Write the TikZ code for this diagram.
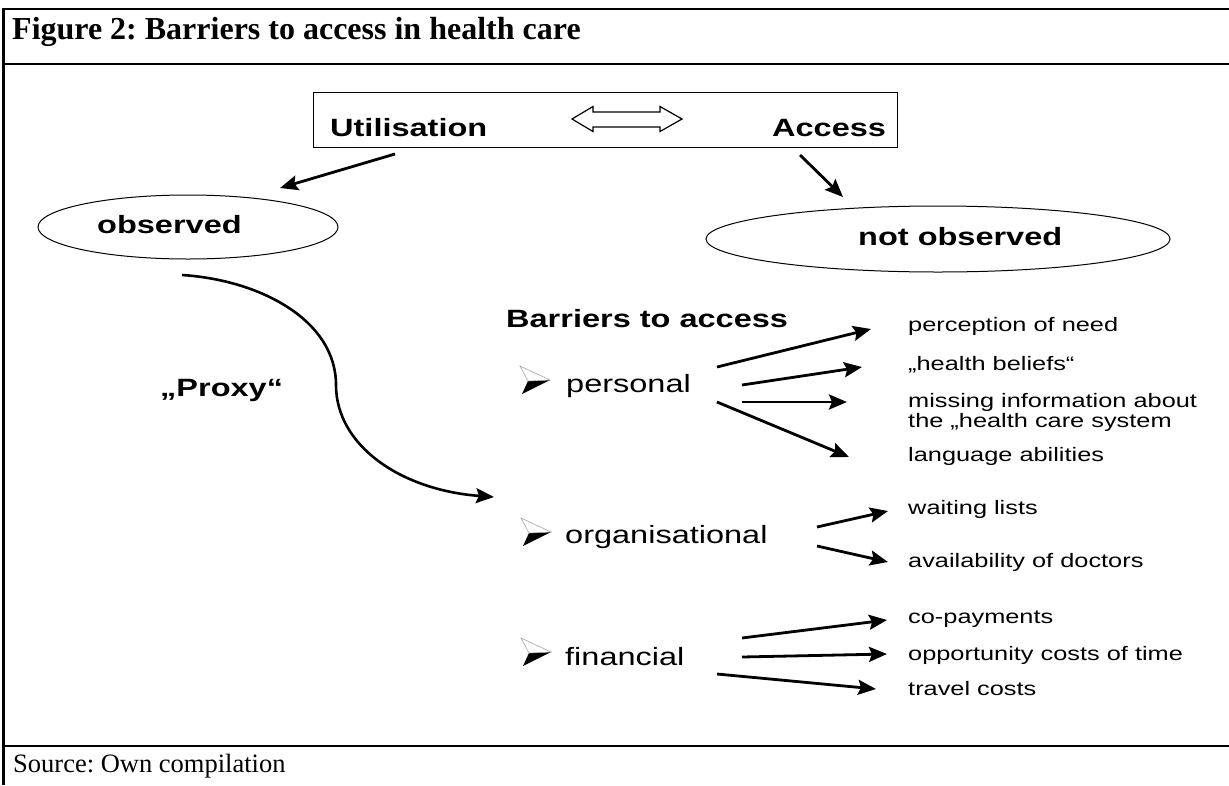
\documentclass[tikz,border=0pt]{standalone}
\usepackage{fontspec}
\setmainfont{Liberation Serif}
\newfontfamily\dsans{Liberation Sans}[FakeStretch=1.3]
\usetikzlibrary{arrows.meta,shapes.geometric}
\frenchspacing
\tikzset{bulletarrow/.pic={
  \fill[black] (8,1) -- (30,0) -- (2,14) -- cycle;
  \filldraw[fill=white, draw=gray!70, line width=0.6pt] (0,-14) -- (30,0) -- (8,1) -- cycle;
}}
\begin{document}
\begin{tikzpicture}[x=1pt,y=-1pt,
  frame/.style={line width=2.8pt},
  ttl/.style={inner sep=0pt, anchor=base west, font=\fontsize{32}{36}\selectfont\bfseries},
  src/.style={inner sep=0pt, anchor=base west, font=\fontsize{26.5}{30}\selectfont},
  lbl/.style={inner sep=0pt, anchor=base west, font=\dsans\fontsize{25}{30}\selectfont\bfseries},
  item/.style={inner sep=0pt, anchor=base west, font=\dsans\fontsize{25}{30}\selectfont},
  sub/.style={inner sep=0pt, anchor=base west, font=\dsans\fontsize{19.5}{22}\selectfont},
  arr/.style={line width=2.8pt, -{Stealth[length=18pt,width=15pt,inset=3pt]}},
  ell/.style={draw, ellipse, line width=1pt, inner sep=0pt},
]
\useasboundingbox (0,0) rectangle (1229,785);
\fill[white] (0,0) rectangle (1229,785);
% frame
\draw[frame] (3.5,785) -- (3.5,9) -- (1229,9);
\draw[frame] (3.5,64) -- (1229,64);
\draw[frame] (3.5,746) -- (1229,746);
\node[ttl] (title) at (12,39) {Figure 2: Barriers to access in health care};
\node[src] (source) at (13,772) {Source: Own compilation};

% top box
\node[draw, line width=1.3pt, minimum width=584pt, minimum height=55pt, anchor=north west, inner sep=0pt] (box) at (313,92) {};
\node[lbl] (util) at (330,136) {Utilisation};
\node[lbl] (acc) at (772,136) {Access};
\draw[line width=1.2pt, fill=white] (572,119) -- (593,106.5) -- (593,112) -- (660,112) -- (660,106.5) -- (682,119)
  -- (660,131.5) -- (660,127) -- (593,127) -- (593,131.5) -- cycle;

% ellipses
\node[ell, minimum width=300pt, minimum height=64pt] (obs) at (188,227) {};
\node[lbl] (obstext) at (97,233) {observed};
\node[ell, minimum width=464pt, minimum height=66pt] (nobs) at (938,239) {};
\node[lbl] (nobstext) at (858,245) {not observed};

\coordinate (u1) at (395,154); \coordinate (u2) at (280,188);
\draw[arr] (u1) -- (u2);
\coordinate (a1) at (800,155); \coordinate (a2) at (843,197);
\draw[arr] (a1) -- (a2);

% proxy
\node[lbl] (proxy) at (160,396) {„Proxy“};
\coordinate (p1) at (182,275); \coordinate (pm) at (336,385); \coordinate (p2) at (494,497);
\draw[arr, line width=2.6pt] (p1) .. controls (260,280) and (336,320) .. (pm) .. controls (336,445) and (400,490) .. (p2);

% barriers
\node[lbl] (bar) at (506,327) {Barriers to access};
\pic at (520,380) {bulletarrow};
\node[item] (pers) at (566,392) {personal};
\pic at (521,532) {bulletarrow};
\node[item] (org) at (565,543) {organisational};
\pic at (521,652) {bulletarrow};
\node[item] (fin) at (565,665) {financial};

% personal sub-items
\node[sub] (s1) at (908,331) {perception of need};
\node[sub] (s2) at (908,370) {„health beliefs“};
\node[sub] (s3a) at (908,407) {missing information about};
\node[sub] (s3b) at (908,427) {the „health care system};
\node[sub] (s4) at (908,461) {language abilities};
\coordinate (pa1s) at (717,367); \coordinate (pa1e) at (871,329);
\coordinate (pa2s) at (742,385); \coordinate (pa2e) at (862,367);
\coordinate (pa3s) at (742,402); \coordinate (pa3e) at (847,402);
\coordinate (pa4s) at (717,402); \coordinate (pa4e) at (849,457);
\draw[arr] (pa1s) -- (pa1e);
\draw[arr] (pa2s) -- (pa2e);
\draw[arr] (pa3s) -- (pa3e);
\draw[arr] (pa4s) -- (pa4e);

% organisational sub-items
\node[sub] (o1) at (908,514) {waiting lists};
\node[sub] (o2) at (908,567) {availability of doctors};
\coordinate (oa1s) at (817,527); \coordinate (oa1e) at (888,511);
\coordinate (oa2s) at (817,546); \coordinate (oa2e) at (888,562);
\draw[arr] (oa1s) -- (oa1e);
\draw[arr] (oa2s) -- (oa2e);

% financial sub-items
\node[sub] (f1) at (908,623) {co-payments};
\node[sub] (f2) at (908,660) {opportunity costs of time};
\node[sub] (f3) at (908,695) {travel costs};
\coordinate (fa1s) at (742,638); \coordinate (fa1e) at (887,620);
\coordinate (fa2s) at (742,657); \coordinate (fa2e) at (887,654);
\coordinate (fa3s) at (717,674); \coordinate (fa3e) at (876,689);
\draw[arr] (fa1s) -- (fa1e);
\draw[arr] (fa2s) -- (fa2e);
\draw[arr] (fa3s) -- (fa3e);
\end{tikzpicture}
\end{document}
